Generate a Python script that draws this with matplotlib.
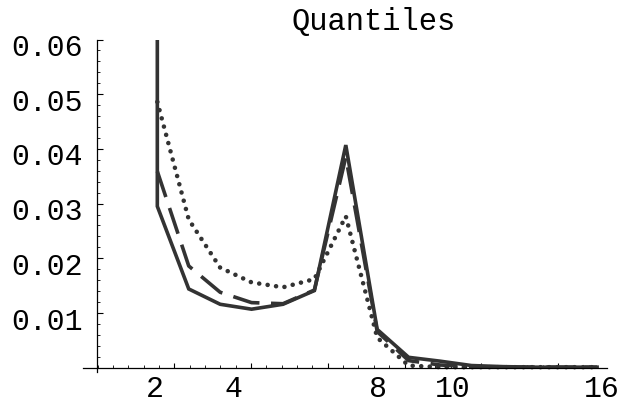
import matplotlib
matplotlib.use("Agg")
import matplotlib.pyplot as plt
import matplotlib.transforms as mtransforms
import numpy as np

# point positions (index along the x axis); solid curve starts with a clipped spike
x_solid = [0, 0, 1, 2, 3, 4, 5, 6, 7, 8, 9, 10, 11, 12, 13, 14]
x_pts = [0, 1, 2, 3, 4, 5, 6, 7, 8, 9, 10, 11, 12, 13, 14]

solid = [0.07, 0.0295, 0.0144, 0.0116, 0.0107, 0.0116, 0.0141, 0.0407,
         0.0070, 0.0019, 0.0012, 0.0004, 0.0002, 0.0001, 0.0001, 0.0001]
dashed = [0.0359, 0.0186, 0.0138, 0.0119, 0.0117, 0.0142, 0.0385,
          0.0066, 0.0013, 0.0005, 0.0002, 0.0001, 0.0001, 0.0001, 0.0001]
dotted = [0.0486, 0.0271, 0.0183, 0.0156, 0.0147, 0.0162, 0.0277,
          0.0055, 0.0004, 0.0001, 0.0001, 0.0001, 0.0001, 0.0001, 0.0001]

x_labels = ["2", "4", "8", "10", "16"]
y_ticks = [0.01, 0.02, 0.03, 0.04, 0.05, 0.06]
y_labels = ["0.01", "0.02", "0.03", "0.04", "0.05", "0.06"]
title = "Quantiles"

MONO = ["Liberation Mono", "DejaVu Sans Mono"]
LINE = "#333333"

fig = plt.figure(figsize=(6.23, 4.09), dpi=100)
ymin = -0.0008
ax = fig.add_axes([83 / 623, 1 - 372.1 / 409, 524 / 623, 332.6 / 409])
ax.set_xlim(-2.366, 14.315)
ax.set_ylim(ymin, 0.06)

ax.plot(x_solid, solid, color=LINE, lw=2.6, solid_joinstyle="miter")
ax.plot(x_pts, dashed, color=LINE, lw=2.6, dashes=(7.5, 3.2),
        dash_capstyle="butt")
ax.plot(x_pts, dotted, color=LINE, lw=3.3, dashes=(0.01, 1.85),
        dash_capstyle="round")

for s in ("top", "right"):
    ax.spines[s].set_visible(False)
ax.spines["left"].set_position(("data", -1.93))
ax.spines["bottom"].set_position(("data", 0))
for s in ("left", "bottom"):
    ax.spines[s].set_linewidth(0.9)

# y axis ticks
ax.set_yticks(y_ticks, y_labels)
ax.set_yticks(np.arange(0.002, 0.0601, 0.002), minor=True)
ax.tick_params(axis="y", which="major", direction="in", length=4,
               width=0.8, pad=10)
ax.tick_params(axis="y", which="minor", direction="in", length=2.2,
               width=0.6)
shift = mtransforms.ScaledTranslation(0, -0.055, fig.dpi_scale_trans)
for lbl in ax.get_yticklabels():
    lbl.set_fontfamily(MONO)
    lbl.set_fontsize(21.5)
    lbl.set_transform(lbl.get_transform() + shift)

# x labels (no marks), marks on a secondary axis
ax.set_xticks([-0.07, 2.41, 7.03, 9.42, 14.16], x_labels)
ax.tick_params(axis="x", which="major", length=0, pad=5.5)
for lbl in ax.get_xticklabels():
    lbl.set_fontfamily(MONO)
    lbl.set_fontsize(21.5)

sec = ax.secondary_xaxis(-ymin / (0.06 - ymin))
for sp in sec.spines.values():
    sp.set_visible(False)
sec.set_xticks(0.541 + 2.443 * np.arange(6))
sec.set_xticks(0.541 + 0.4886 * np.arange(-5, 28), minor=True)
sec.tick_params(axis="x", which="major", direction="in", length=3.5,
                width=0.8, labelbottom=False)
sec.tick_params(axis="x", which="minor", direction="in", length=2,
                width=0.6, labelbottom=False)

fig.text(374 / 623, 1 - 22 / 409, title, ha="center", va="center",
         family=MONO, fontsize=22)

fig.savefig("out.png", dpi=100)
